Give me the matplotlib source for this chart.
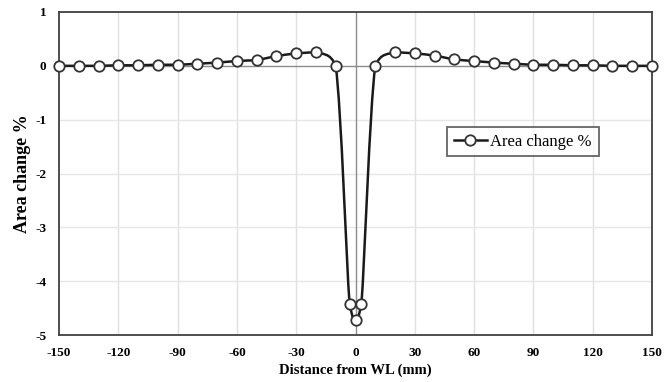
import matplotlib
matplotlib.use("Agg")
import matplotlib.pyplot as plt
from matplotlib.path import Path
from matplotlib.patches import PathPatch
from matplotlib.lines import Line2D

distance_mm = [-150, -140, -130, -120, -110, -100, -90, -80, -70, -60, -50, -40, -30, -20, -10,
               -3, 0, 3,
               10, 20, 30, 40, 50, 60, 70, 80, 90, 100, 110, 120, 130, 140, 150]
area_change = [0.0, 0.0, 0.0, 0.01, 0.01, 0.02, 0.02, 0.04, 0.06, 0.09, 0.11, 0.18, 0.23, 0.25, 0.0,
               -4.42, -4.72, -4.42,
               0.0, 0.25, 0.23, 0.19, 0.12, 0.09, 0.06, 0.04, 0.02, 0.02, 0.01, 0.01, 0.0, 0.0, 0.0]
x_ticks = [-150, -120, -90, -60, -30, 0, 30, 60, 90, 120, 150]
y_ticks = [1, 0, -1, -2, -3, -4, -5]

plt.rcParams['font.family'] = ['Liberation Serif', 'DejaVu Serif']

fig = plt.figure(figsize=(6.72, 3.82), dpi=100)
W, H = 672, 382
L, R, T, B = 59, 652, 12, 335
ax = fig.add_axes([L / W, 1 - B / H, (R - L) / W, (B - T) / H])

ax.set_xlim(-150, 150)
ax.set_ylim(-5, 1)
ax.set_xticks(x_ticks)
ax.set_yticks(y_ticks)
ax.set_xticklabels([str(v) for v in x_ticks], fontweight='bold', fontsize=9.5)
ax.set_yticklabels([str(v) for v in y_ticks], fontweight='bold', fontsize=9.5)
ax.tick_params(axis='x', length=0, pad=9)
ax.tick_params(axis='y', length=0, pad=9)

for xv in x_ticks[1:-1]:
    if xv != 0:
        ax.axvline(xv, color='#e0e0e0', lw=1, zorder=0)
for yv in y_ticks[1:-1]:
    if yv != 0:
        ax.axhline(yv, color='#e6e6e6', lw=1, zorder=0)
ax.axvline(0, color='#8c8c8c', lw=1, zorder=1)
ax.axhline(0, color='#8c8c8c', lw=1, zorder=1)

for s in ax.spines.values():
    s.set_color('#404040')
    s.set_linewidth(1.3)

# Smoothed line: Catmull-Rom Bezier segments with control points kept inside each segment's box
n = len(distance_mm)
P = list(zip(distance_mm, area_change))


def clamp(v, a, b):
    lo, hi = min(a, b), max(a, b)
    return max(lo, min(hi, v))


verts = [P[0]]
codes = [Path.MOVETO]
for i in range(n - 1):
    p0 = P[i - 1] if i > 0 else P[i]
    p1 = P[i]
    p2 = P[i + 1]
    p3 = P[i + 2] if i + 2 < n else P[i + 1]
    c1 = (p1[0] + (p2[0] - p0[0]) / 6, p1[1] + (p2[1] - p0[1]) / 6)
    c2 = (p2[0] - (p3[0] - p1[0]) / 6, p2[1] - (p3[1] - p1[1]) / 6)
    c1 = (clamp(c1[0], p1[0], p2[0]), clamp(c1[1], p1[1], p2[1]))
    c2 = (clamp(c2[0], p1[0], p2[0]), clamp(c2[1], p1[1], p2[1]))
    verts += [c1, c2, p2]
    codes += [Path.CURVE4] * 3
ax.add_patch(PathPatch(Path(verts, codes), facecolor='none', edgecolor='#1a1a1a',
                       lw=1.8, zorder=2, clip_on=False))

ax.plot(distance_mm, area_change, linestyle='none', marker='o', markersize=7.5,
        markerfacecolor='white', markeredgecolor='#333333', markeredgewidth=1.3,
        zorder=3, clip_on=False)

ax.set_xlabel('Distance from WL (mm)', fontweight='bold', fontsize=10.5, labelpad=3)
ax.set_ylabel('Area change %', fontweight='bold', fontsize=13, labelpad=3)

handle = Line2D([], [], color='#1a1a1a', lw=1.8, marker='o', markersize=7.5,
                markerfacecolor='white', markeredgecolor='#333333', markeredgewidth=1.3)
leg = ax.legend([handle], ['Area change %'], loc='upper left',
                bbox_to_anchor=((447 - L) / (R - L), 1 - (127 - T) / (B - T)),
                prop={'size': 12}, frameon=True, fancybox=False, borderpad=0.4,
                handlelength=2.0, handletextpad=0.2, borderaxespad=0)
leg.get_frame().set_edgecolor('#404040')
leg.get_frame().set_linewidth(1.3)

fig.savefig('out.png', dpi=100)
